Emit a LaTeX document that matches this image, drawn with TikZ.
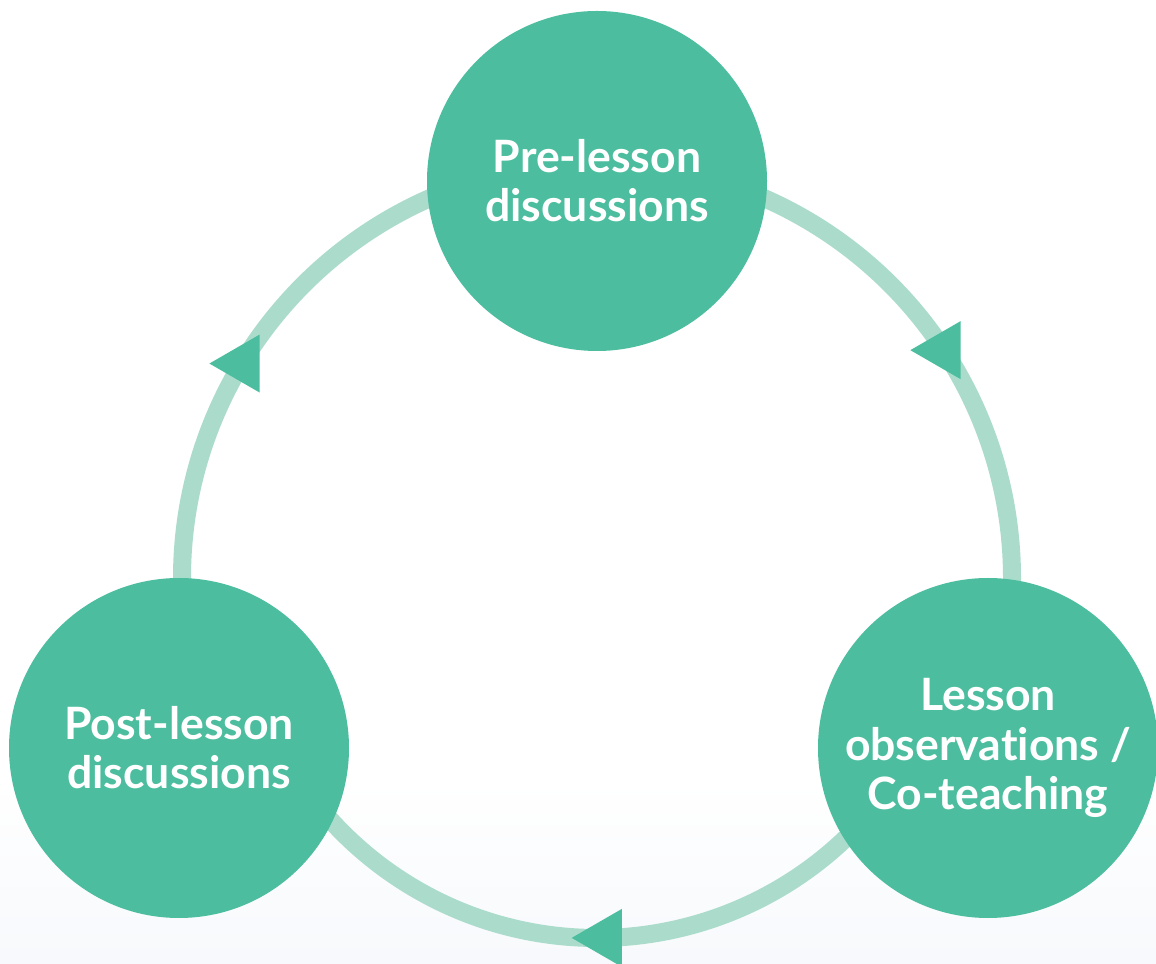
\documentclass[tikz,border=0pt]{standalone}
\usepackage{fontspec}
\setmainfont{Lato}[Ligatures=NoCommon]
\usepackage{tikz}
\usetikzlibrary{shapes}

\definecolor{leaf}{HTML}{4CBE9F}
\definecolor{leaflight}{HTML}{ABDCCB}
\definecolor{paper}{HTML}{F7F9FC}

\begin{document}
\begin{tikzpicture}[auto,thick,
    stage/.style={circle,fill=leaf,text=white,minimum size=8.5cm,inner sep=0pt,
        align=center,font=\fontsize{31.7}{35}\selectfont\bfseries,
        execute at begin node={\rule{0pt}{30pt}}},
    ring/.style={draw=leaflight,line width=0.45cm},
    tip/.style={regular polygon,regular polygon sides=3,shape border rotate=90,
        fill=leaf,minimum size=1.675cm,inner sep=0pt}]
\fill[white] (0,0) rectangle (28.9,24.075);
\shade[top color=white,bottom color=paper] (0,0) rectangle (28.9,4.6);
\useasboundingbox (0,0) rectangle (28.9,24.075);

\coordinate (hub) at (14.925,9.625);

% the cycle, behind the stages
\draw[ring] ([shift={(185:10.375)}]hub) arc[start angle=185,end angle=90,radius=10.375];
\draw[ring] ([shift={(90:10.375)}]hub) arc[start angle=90,end angle=-5,radius=10.375];
\draw[ring] ([shift={(-40:9)}]hub) arc[start angle=-40,end angle=-140,radius=9];

\draw
    node at (14.925,19.55)[stage,name=pre]{Pre-lesson\\discussions}
    node at (24.7,5.375)[stage,name=obs]{Lesson\\observations /\\Co-teaching}
    node at (4.475,5.375)[stage,name=post]{Post-lesson\\discussions}

    node at ([shift={(33.3:10.375)}]hub)[tip,name=tipa]{}
    node at ([shift={(-88.7:9)}]hub)[tip,name=tipb]{}
    node at ([shift={(148.8:10.35)}]hub)[tip,name=tipc]{}
;
\end{tikzpicture}
\end{document}
